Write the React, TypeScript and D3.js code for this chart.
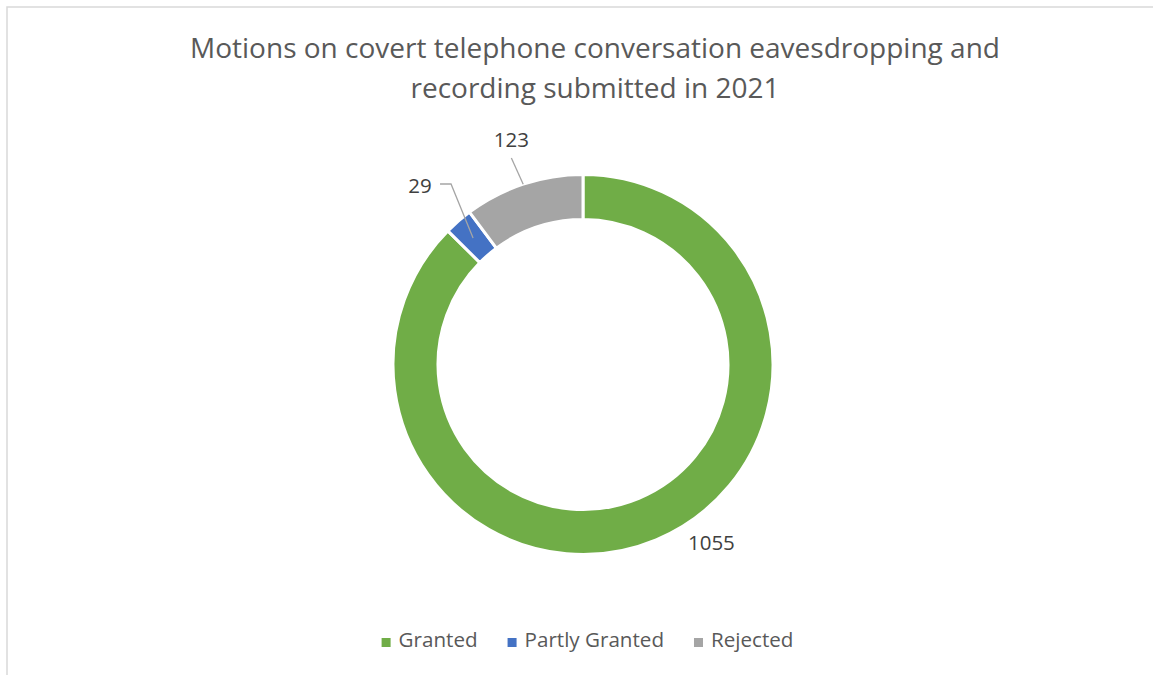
import React, { useEffect, useRef } from "react";
import * as d3 from "d3";

const categories = ["Granted", "Partly Granted", "Rejected"];
const values = [1055, 29, 123];
const colors = ["#70AD47", "#4472C4", "#A5A5A5"];
const titleLines = [
  "Motions on covert telephone conversation eavesdropping and",
  "recording submitted in 2021",
];
// label placement: polar angle (degrees, clockwise from top) and radius
const labelAngles = [144.2, -42.4, -17.7];
const labelRadii = [219.5, 241.7, 235.6];

const W = 1153;
const H = 675;

export default function App() {
  const ref = useRef<SVGSVGElement>(null);

  useEffect(() => {
    const svg = d3.select(ref.current);
    svg.selectAll("*").remove();
    const font = "'Open Sans', 'Liberation Sans', sans-serif";

    svg
      .append("rect")
      .attr("x", 7)
      .attr("y", 7)
      .attr("width", W + 10)
      .attr("height", H + 10)
      .attr("fill", "#fff")
      .attr("stroke", "#D9D9D9")
      .attr("stroke-width", 1.5);

    // title
    const title = svg
      .append("text")
      .attr("font-family", font)
      .attr("font-size", 28)
      .attr("fill", "#595959")
      .attr("text-anchor", "middle");
    titleLines.forEach((t, i) => {
      title
        .append("tspan")
        .attr("x", 595)
        .attr("y", 58 + i * 40)
        .text(t);
    });

    const cx = 583;
    const cy = 364.5;
    const outerR = 190;
    const innerR = 145;

    const pie = d3
      .pie<number>()
      .sort(null)
      .value((d) => d)
      .startAngle(0)
      .endAngle(2 * Math.PI);
    const arcs = pie(values);
    const arc = d3.arc<d3.PieArcDatum<number>>().innerRadius(innerR).outerRadius(outerR);

    const g = svg.append("g").attr("transform", `translate(${cx},${cy})`);
    g.selectAll("path.slice")
      .data(arcs)
      .enter()
      .append("path")
      .attr("class", "slice")
      .attr("d", arc as any)
      .attr("fill", (_, i) => colors[i])
      .attr("stroke", "#fff")
      .attr("stroke-width", 3);

    const polar = (deg: number, r: number): [number, number] => {
      const a = (deg * Math.PI) / 180;
      return [r * Math.sin(a), -r * Math.cos(a)];
    };

    const midArc = d3
      .arc<d3.PieArcDatum<number>>()
      .innerRadius((innerR + outerR) / 2)
      .outerRadius((innerR + outerR) / 2);
    // Partly Granted: elbow leader to centroid
    {
      const [lx, ly] = polar(labelAngles[1], labelRadii[1]);
      const c = midArc.centroid(arcs[1]);
      const y0 = ly - 2;
      g.append("path")
        .attr("d", `M${lx + 20},${y0}H${lx + 31}L${c[0]},${c[1]}`)
        .attr("fill", "none")
        .attr("stroke", "#A5A5A5")
        .attr("stroke-width", 1.3);
    }
    // Rejected: straight leader to outer edge
    {
      const [lx, ly] = polar(labelAngles[2], labelRadii[2]);
      const a = (arcs[2].startAngle + arcs[2].endAngle) / 2;
      const ex = outerR * Math.sin(a);
      const ey = -outerR * Math.cos(a);
      g.append("path")
        .attr("d", `M${lx},${ly + 18}L${ex},${ey}`)
        .attr("fill", "none")
        .attr("stroke", "#A5A5A5")
        .attr("stroke-width", 1.3);
    }

    values.forEach((v, i) => {
      const [lx, ly] = polar(labelAngles[i], labelRadii[i]);
      g.append("text")
        .attr("x", lx)
        .attr("y", ly)
        .attr("dy", "0.35em")
        .attr("text-anchor", "middle")
        .attr("font-family", font)
        .attr("font-size", 20.5)
        .attr("fill", "#404040")
        .text(String(v));
    });

    // legend
    const legend = svg.append("g");
    const items = legend
      .selectAll("g")
      .data(categories)
      .enter()
      .append("g");
    items
      .append("rect")
      .attr("width", 9)
      .attr("height", 9)
      .attr("y", -9)
      .attr("fill", (_, i) => colors[i]);
    const texts = items
      .append("text")
      .attr("x", 17)
      .attr("y", 0)
      .attr("font-family", font)
      .attr("font-size", 20.6)
      .attr("fill", "#595959")
      .text((d) => d);
    const widths: number[] = [];
    texts.each(function () {
      widths.push((this as SVGTextElement).getComputedTextLength());
    });
    const gap = 30;
    const itemW = widths.map((w) => 17 + w);
    const total = d3.sum(itemW) + gap * (itemW.length - 1);
    let x = 587.5 - total / 2;
    items.attr("transform", (_, i) => {
      const t = `translate(${x},647)`;
      x += itemW[i] + gap;
      return t;
    });
  }, []);

  return (
    <svg
      ref={ref}
      width={W}
      height={H}
      style={{ position: "absolute", left: 0, top: 0, background: "#fff" }}
    />
  );
}
